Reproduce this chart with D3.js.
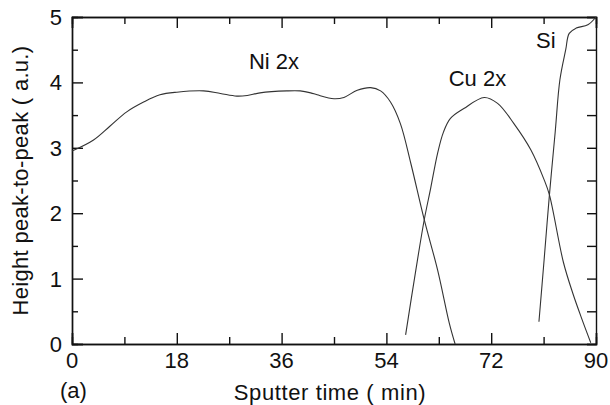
<!DOCTYPE html>
<html>
<head>
<meta charset="utf-8">
<script src="https://cdn.jsdelivr.net/npm/d3@7"></script>
<style>
  body { margin: 0; background: #fff; }
  svg text { font-family: "Liberation Sans", Arial, Helvetica, sans-serif; fill: #111; }
</style>
</head>
<body>
<div id="chart"></div>
<script>
// sputter time (min) and peak-to-peak heights
var niTime = [0, 3.7, 6.5, 9.4, 12.3, 15.1, 18, 22.6, 25.5, 28.3, 30.1, 32.3, 36.9, 39.2, 41.0, 42.1, 45.0, 46.7, 49.0, 51.3, 53.0, 54.7, 56.4, 58.2, 60.5, 62.8, 64.8, 65.8];
var niValue = [2.95, 3.12, 3.33, 3.55, 3.70, 3.81, 3.85, 3.87, 3.83, 3.79, 3.80, 3.84, 3.87, 3.87, 3.84, 3.81, 3.75, 3.77, 3.88, 3.92, 3.87, 3.70, 3.37, 2.76, 1.90, 1.13, 0.32, 0.0];

var cuTime = [57.3, 59.0, 60.5, 61.6, 62.8, 63.8, 65.0, 67.3, 70.8, 73.1, 75.9, 78.8, 81.1, 82.0, 84.4, 86.0, 87.5, 89.1];
var cuValue = [0.14, 1.10, 1.90, 2.38, 2.92, 3.24, 3.45, 3.60, 3.77, 3.68, 3.37, 2.97, 2.51, 2.28, 1.25, 0.78, 0.40, 0.02];

var siTime = [80.2, 81.1, 82.0, 83.0, 83.8, 84.8, 85.4, 86.6, 88.6, 90];
var siValue = [0.34, 1.30, 2.28, 3.25, 4.04, 4.50, 4.75, 4.83, 4.88, 5.0];

var xTicks = [0, 18, 36, 54, 72, 90];
var yTicks = [0, 1, 2, 3, 4, 5];

var labels = [
  {text: "Ni 2x", t: 30.4, v: 4.2},
  {text: "Cu 2x", t: 64.7, v: 3.94},
  {text: "Si", t: 79.7, v: 4.53}
];

var width = 610, height = 405;
var margin = {top: 17, right: 14, bottom: 61, left: 72};
var w = width - margin.left - margin.right,
    h = height - margin.top - margin.bottom;
var fs = 22;

var svg = d3.select("#chart").append("svg")
    .attr("width", width)
    .attr("height", height);

var g = svg.append("g")
    .attr("transform", "translate(" + margin.left + "," + margin.top + ")");

var x = d3.scaleLinear().domain([0, 90]).range([0, w]);
var y = d3.scaleLinear().domain([0, 5]).range([h, 0]);

var minorX = d3.range(9, 90, 18);
var minorY = d3.range(0.5, 5, 1);

// inward ticks on all four sides
function tickAxis(axis, vals, len) {
  return axis.tickValues(vals).tickSize(-len).tickFormat("");
}

g.append("g").attr("class", "ax").attr("transform", "translate(0," + h + ")")
  .call(tickAxis(d3.axisBottom(x), xTicks, 11));
g.append("g").attr("class", "ax").attr("transform", "translate(0," + h + ")")
  .call(tickAxis(d3.axisBottom(x), minorX, 7));
g.append("g").attr("class", "ax")
  .call(tickAxis(d3.axisTop(x), xTicks, 11));
g.append("g").attr("class", "ax")
  .call(tickAxis(d3.axisTop(x), minorX, 7));
g.append("g").attr("class", "ax")
  .call(tickAxis(d3.axisLeft(y), yTicks, 11));
g.append("g").attr("class", "ax")
  .call(tickAxis(d3.axisLeft(y), minorY, 6));
g.append("g").attr("class", "ax").attr("transform", "translate(" + w + ",0)")
  .call(tickAxis(d3.axisRight(y), d3.range(0, 5.01, 0.5), 9));

g.selectAll(".ax path").attr("stroke", "#111").attr("stroke-width", 1.4);
g.selectAll(".ax line").attr("stroke", "#111").attr("stroke-width", 1.4);

// tick labels
g.selectAll(".xlab").data(xTicks).enter().append("text")
  .attr("class", "xlab")
  .attr("x", function(d) { return x(d); })
  .attr("y", h + 24)
  .attr("text-anchor", "middle")
  .attr("font-size", fs)
  .text(function(d) { return d; });

g.selectAll(".ylab").data(yTicks).enter().append("text")
  .attr("class", "ylab")
  .attr("x", -10)
  .attr("y", function(d) { return y(d) + 8; })
  .attr("text-anchor", "end")
  .attr("font-size", fs)
  .text(function(d) { return d; });

// curves
var line = d3.line()
  .x(function(d) { return x(d[0]); })
  .y(function(d) { return y(d[1]); })
  .curve(d3.curveCatmullRom.alpha(0.5));

[[niTime, niValue], [cuTime, cuValue], [siTime, siValue]].forEach(function(s) {
  g.append("path")
    .datum(d3.zip(s[0], s[1]))
    .attr("d", line)
    .attr("fill", "none")
    .attr("stroke", "#333")
    .attr("stroke-width", 1.1);
});

g.selectAll(".clab").data(labels).enter().append("text")
  .attr("class", "clab")
  .attr("x", function(d) { return x(d.t); })
  .attr("y", function(d) { return y(d.v); })
  .attr("font-size", fs)
  .text(function(d) { return d.text; });

// axis titles
svg.append("text")
  .attr("x", margin.left + w / 2 - 4)
  .attr("y", 400)
  .attr("text-anchor", "middle")
  .attr("font-size", fs)
  .attr("letter-spacing", 0.6)
  .text("Sputter time ( min)");

svg.append("text")
  .attr("x", 60)
  .attr("y", 398)
  .attr("font-size", fs)
  .text("(a)");

svg.append("text")
  .attr("transform", "translate(28," + (margin.top + h / 2) + ") rotate(-90)")
  .attr("text-anchor", "middle")
  .attr("font-size", fs)
  .attr("letter-spacing", 0.3)
  .text("Height peak-to-peak ( a.u.)");
</script>
</body>
</html>
